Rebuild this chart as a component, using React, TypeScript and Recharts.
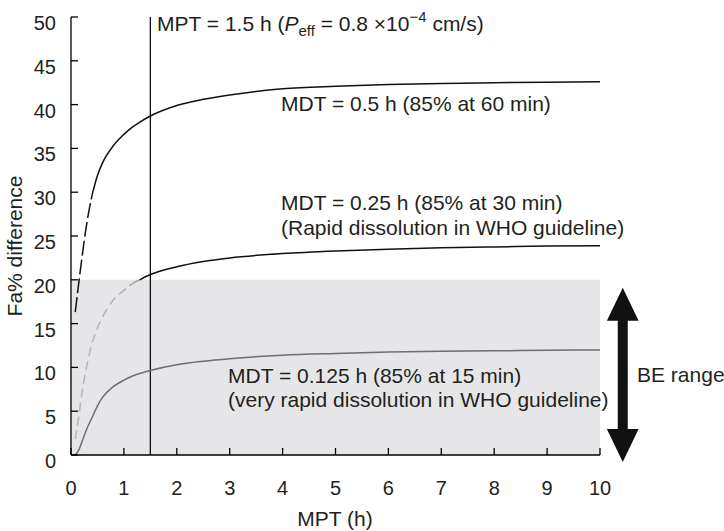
import React from 'react';
import { LineChart, Line, XAxis, YAxis, ReferenceArea, ReferenceLine } from 'recharts';

// MPT (h) sampling grid
const mpt = [0.08, 0.15, 0.2, 0.3, 0.4, 0.5, 0.6, 0.8, 1.0, 1.1, 1.2, 1.3, 1.5, 2, 2.5, 3, 4, 5, 6, 7, 8, 9, 10];
// MDT = 0.5 h
const mdt05 = [16.3, 19.8, 22.2, 26.5, 29.7, 31.9, 33.4, 35.3, 36.6, 37.15, 37.6, 38.0, 38.7, 39.9, 40.6, 41.1, 41.8, 42.1, 42.3, 42.4, 42.5, 42.55, 42.6];
// MDT = 0.25 h
const mdt025 = [1.8, 4.5, 6.8, 10.2, 12.8, 14.5, 15.8, 17.7, 18.8, 19.3, 19.7, 20.0, 20.6, 21.5, 22.1, 22.5, 23.0, 23.3, 23.5, 23.65, 23.75, 23.85, 23.9];
// MDT = 0.125 h
const mdt0125 = [0.0, 0.6, 1.4, 3.0, 4.3, 5.6, 6.6, 7.8, 8.55, 8.85, 9.1, 9.3, 9.65, 10.3, 10.7, 11.0, 11.4, 11.6, 11.75, 11.85, 11.9, 11.95, 12.0];

const xTicks = [0, 1, 2, 3, 4, 5, 6, 7, 8, 9, 10];
const yTicks = [0, 5, 10, 15, 20, 25, 30, 35, 40, 45, 50];

const mptLine = 1.5;
const beLow = 0;
const beHigh = 20;

const data = mpt.map((x, i) => ({
  x,
  topDash: x <= 0.4 ? mdt05[i] : undefined,
  topSolid: x >= 0.4 ? mdt05[i] : undefined,
  midDash: x <= 1.1 ? mdt025[i] : undefined,
  midGray: x >= 1.1 && x <= 1.3 ? mdt025[i] : undefined,
  midSolid: x >= 1.3 ? mdt025[i] : undefined,
  bot: mdt0125[i],
}));

const FONT = '"Liberation Sans", Arial, Helvetica, sans-serif';
const TXT = '#231f20';

const YTick = (props: any) => {
  const { x, y, payload } = props;
  return (
    <g>
      <line x1={x} y1={y} x2={x + 7} y2={y} stroke="#000" strokeWidth={1.3} />
      <text x={x - 15} y={y + 13} textAnchor="end" fontSize={20} fontFamily={FONT} fill={TXT}>
        {payload.value}
      </text>
    </g>
  );
};

const XTick = (props: any) => {
  const { x, y, payload } = props;
  return (
    <g>
      <line x1={x} y1={y} x2={x} y2={y - 7} stroke="#000" strokeWidth={1.3} />
      <text x={x} y={y + 40} textAnchor="middle" fontSize={20} fontFamily={FONT} fill={TXT}>
        {payload.value}
      </text>
    </g>
  );
};

const ArrowShape = (props: any) => {
  const { x, y, width, height } = props;
  const top = Math.min(y, y + height);
  const bottom = Math.max(y, y + height);
  const left = Math.min(x, x + width);
  const w = Math.abs(width);
  const cx = left + w / 2;
  const hh = 33;
  const hw = w / 2;
  const sw = 5;
  const pts = [
    [cx, top],
    [cx + hw, top + hh],
    [cx + sw, top + hh],
    [cx + sw, bottom - hh],
    [cx + hw, bottom - hh],
    [cx, bottom],
    [cx - hw, bottom - hh],
    [cx - sw, bottom - hh],
    [cx - sw, top + hh],
    [cx - hw, top + hh],
  ]
    .map((p) => p.join(','))
    .join(' ');
  return <polygon points={pts} fill="#111" />;
};

export default function App() {
  return (
    <div style={{ position: 'absolute', left: 0, top: 0, width: 724, height: 531, background: '#fff' }}>
      <LineChart width={724} height={531} data={data} margin={{ top: 17, right: 124, bottom: 0, left: 0 }}>
        <XAxis
          dataKey="x"
          type="number"
          domain={[0, 10]}
          ticks={xTicks}
          interval={0}
          height={76}
          tickSize={0}
          tickMargin={0}
          tickLine={false}
          tick={<XTick />}
          axisLine={{ stroke: '#000', strokeWidth: 1.3 }}
        />
        <YAxis
          type="number"
          domain={[0, 50]}
          ticks={yTicks}
          interval={0}
          width={71}
          tickSize={0}
          tickMargin={0}
          tickLine={false}
          tick={<YTick />}
          axisLine={{ stroke: '#000', strokeWidth: 1.3 }}
        />
        <ReferenceArea x1={0} x2={10} y1={beLow} y2={beHigh} fill="#e6e6e8" fillOpacity={1} stroke="none" />
        <ReferenceLine x={mptLine} stroke="#111" strokeWidth={1.3} />
        <Line dataKey="bot" type="monotone" stroke="#6d6e71" strokeWidth={1.5} dot={false} isAnimationActive={false} />
        <Line dataKey="midDash" type="monotone" stroke="#b5b5b8" strokeWidth={1.5} strokeDasharray="9 5" dot={false} isAnimationActive={false} />
        <Line dataKey="midGray" type="monotone" stroke="#a0a0a3" strokeWidth={1.5} dot={false} isAnimationActive={false} />
        <Line dataKey="midSolid" type="monotone" stroke="#111" strokeWidth={1.5} dot={false} isAnimationActive={false} />
        <Line dataKey="topDash" type="monotone" stroke="#111" strokeWidth={1.5} strokeDasharray="15 4" dot={false} isAnimationActive={false} />
        <Line dataKey="topSolid" type="monotone" stroke="#111" strokeWidth={1.5} dot={false} isAnimationActive={false} />
        <ReferenceArea x1={10.13} x2={10.73} y1={-0.8} y2={19.1} ifOverflow="visible" shape={<ArrowShape />} />
      </LineChart>
      <svg width={724} height={531} style={{ position: 'absolute', left: 0, top: 0, pointerEvents: 'none' }}>
        <g fontFamily={FONT} fontSize={21} fill={TXT}>
          <text x={157} y={31}>
            MPT = 1.5 h (<tspan fontStyle="italic">P</tspan>
            <tspan fontSize={15} dy={5}>eff</tspan>
            <tspan dy={-5}> = 0.8 ×10</tspan>
            <tspan fontSize={15} dy={-9}>−4</tspan>
            <tspan dy={9}> cm/s)</tspan>
          </text>
          <text x={281} y={111}>MDT = 0.5 h (85% at 60 min)</text>
          <text x={281} y={210}>MDT = 0.25 h (85% at 30 min)</text>
          <text x={281} y={235}>(Rapid dissolution in WHO guideline)</text>
          <text x={228} y={383}>MDT = 0.125 h (85% at 15 min)</text>
          <text x={228} y={407}>(very rapid dissolution in WHO guideline)</text>
          <text x={637} y={382}>BE range</text>
          <text x={335} y={526} textAnchor="middle">MPT (h)</text>
          <text x={22} y={246} textAnchor="middle" transform="rotate(-90, 22, 246)">Fa% difference</text>
        </g>
      </svg>
    </div>
  );
}
